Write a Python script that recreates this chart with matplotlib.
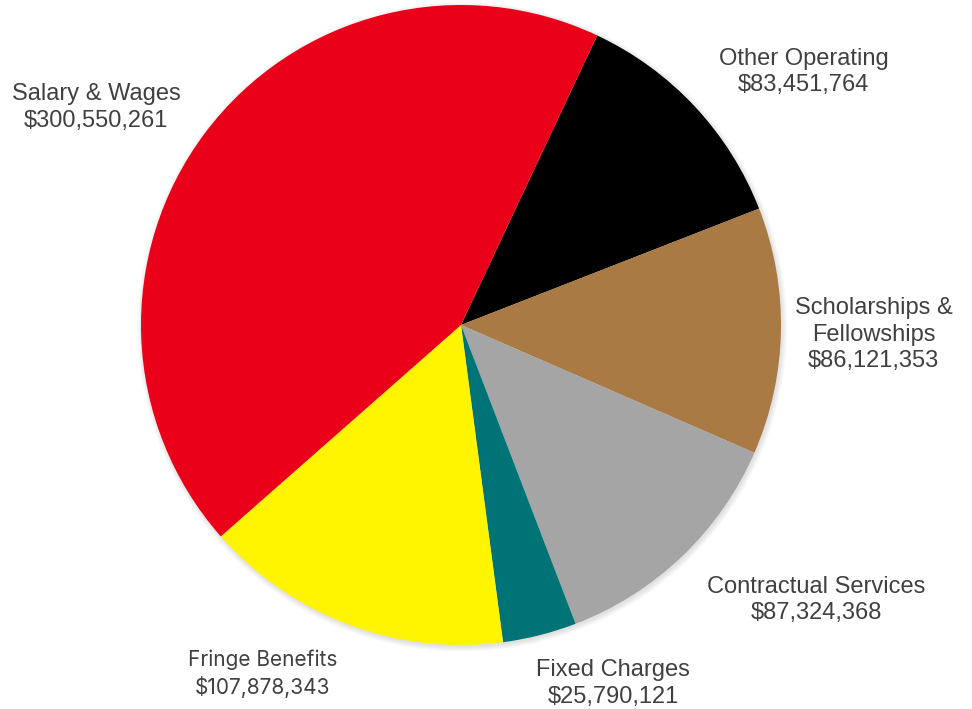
import numpy as np
import matplotlib.pyplot as plt
from matplotlib.patches import Circle

# Categorías de gasto (en orden horario, empezando por Other Operating)
categories = ["Other Operating", "Scholarships &\nFellowships", "Contractual Services",
              "Fixed Charges", "Fringe Benefits", "Salary & Wages"]
amounts = [83451764, 86121353, 87324368, 25790121, 107878343, 300550261]
colors = ["#000000", "#A97A44", "#A5A5A5", "#007377", "#FFF500", "#EA0019"]

# Posición de cada etiqueta (en unidades del radio del pastel)
label_pos = [(1.07, 0.79), (1.29, -0.03), (1.11, -0.86),
             (0.475, -1.12), (-0.62, -1.09), (-1.14, 0.68)]

plt.rcParams['font.family'] = ['Liberation Sans', 'DejaVu Sans']

fig = plt.figure(figsize=(9.72, 7.09), dpi=100)
ax = fig.add_axes([0, 0, 1, 1])

# Sombra suave alrededor del pastel
for i in range(6):
    ax.add_patch(Circle((0.004, -0.006), 1.0 + 0.003 * i, color='black',
                        alpha=0.02, lw=0, zorder=0))

ax.pie(amounts, colors=colors, startangle=64.8, counterclock=False,
       radius=1.0, center=(0, 0), frame=True,
       wedgeprops=dict(linewidth=0, zorder=1))
ax.set_xlim(-461 / 320, (972 - 461) / 320)
ax.set_ylim(-(709 - 325) / 320, 325 / 320)
ax.set_aspect('equal')
ax.axis('off')

for name, val, (x, y) in zip(categories, amounts, label_pos):
    if name == "Fringe Benefits":
        # esta etiqueta lleva otra tipografía
        ax.text(x, y, f"{name}\n${val:,}", ha='center', va='center',
                fontsize=15, color='#404040', linespacing=1.3,
                family=['Inter', 'DejaVu Sans'])
    else:
        ax.text(x, y, f"{name}\n${val:,}", ha='center', va='center',
                fontsize=17, color='#404040', linespacing=1.25)

fig.savefig("out.png", dpi=100)
